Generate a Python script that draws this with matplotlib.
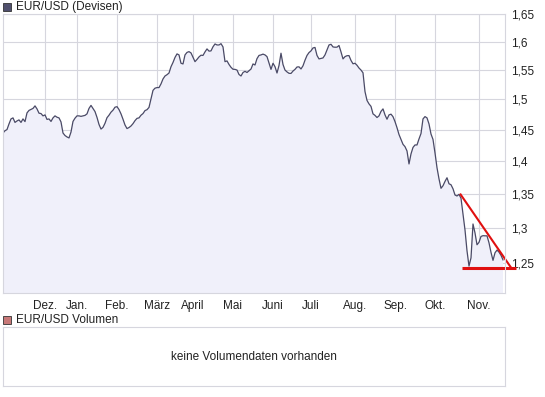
import matplotlib
matplotlib.use('Agg')
from matplotlib import pyplot
from matplotlib.patches import Rectangle
import matplotlib.ticker as ticker
import numpy

pyplot.rcParams['font.family'] = ['Liberation Sans', 'DejaVu Sans']

# EUR/USD daily closes, Nov 2007 - Nov 2008
kurs = [
    1.4449, 1.4486, 1.4505, 1.4596, 1.4678, 1.4695, 1.4621, 1.4645, 1.4662, 1.4621,
    1.4678, 1.4634, 1.4777, 1.4818, 1.4835, 1.4851, 1.4893, 1.4843, 1.4772, 1.4766,
    1.4728, 1.4744, 1.4670, 1.4678, 1.4637, 1.4695, 1.4728, 1.4706, 1.4695, 1.4629,
    1.4449, 1.4409, 1.4386, 1.4370, 1.4465, 1.4637, 1.4690, 1.4728, 1.4728, 1.4720,
    1.4728, 1.4736, 1.4761, 1.4851, 1.4901, 1.4851, 1.4799, 1.4703, 1.4588, 1.4513,
    1.4541, 1.4607, 1.4698, 1.4739, 1.4789, 1.4822, 1.4871, 1.4880, 1.4832, 1.4761,
    1.4673, 1.4579, 1.4521, 1.4538, 1.4563, 1.4601, 1.4650, 1.4687, 1.4695, 1.4739,
    1.4766, 1.4815, 1.4830, 1.4868, 1.5008, 1.5153, 1.5190, 1.5200, 1.5200, 1.5263,
    1.5347, 1.5398, 1.5420, 1.5449, 1.5558, 1.5632, 1.5720, 1.5782, 1.5764, 1.5618,
    1.5606, 1.5764, 1.5808, 1.5822, 1.5799, 1.5720, 1.5646, 1.5685, 1.5729, 1.5759,
    1.5755, 1.5817, 1.5870, 1.5831, 1.5835, 1.5908, 1.5958, 1.5940, 1.5940, 1.5963,
    1.5905, 1.5646, 1.5659, 1.5597, 1.5548, 1.5514, 1.5512, 1.5500, 1.5424, 1.5398,
    1.5458, 1.5478, 1.5458, 1.5488, 1.5518, 1.5606, 1.5588, 1.5699, 1.5755, 1.5764,
    1.5778, 1.5764, 1.5734, 1.5623, 1.5512, 1.5618, 1.5558, 1.5449, 1.5579, 1.5794,
    1.5597, 1.5500, 1.5468, 1.5444, 1.5442, 1.5483, 1.5512, 1.5553, 1.5556, 1.5519,
    1.5574, 1.5671, 1.5755, 1.5805, 1.5835, 1.5887, 1.5896, 1.5755, 1.5694, 1.5703,
    1.5711, 1.5764, 1.5852, 1.5940, 1.5952, 1.5905, 1.5900, 1.5901, 1.5931, 1.5817,
    1.5694, 1.5734, 1.5750, 1.5752, 1.5667, 1.5609, 1.5618, 1.5583, 1.5535, 1.5500,
    1.5453, 1.5132, 1.4984, 1.4926, 1.4885, 1.4761, 1.4736, 1.4701, 1.4728, 1.4802,
    1.4843, 1.4744, 1.4673, 1.4744, 1.4756, 1.4715, 1.4634, 1.4535, 1.4425, 1.4346,
    1.4268, 1.4231, 1.4163, 1.3959, 1.4116, 1.4219, 1.4258, 1.4258, 1.4354, 1.4441,
    1.4678, 1.4716, 1.4695, 1.4596, 1.4433, 1.4346, 1.4132, 1.3901, 1.3729, 1.3585,
    1.3624, 1.3690, 1.3746, 1.3654, 1.3639, 1.3578, 1.3484, 1.3469, 1.3494, 1.3435,
    1.3204, 1.2969, 1.2671, 1.2456, 1.2571, 1.3055, 1.2926, 1.2756, 1.2791, 1.2875,
    1.2886, 1.2884, 1.2884, 1.2784, 1.2649, 1.2536, 1.2642, 1.2681, 1.2652, 1.2607,
    1.2543,
]
monate = ['Dez.', 'Jan.', 'Feb.', 'März', 'April', 'Mai', 'Juni', 'Juli', 'Aug.', 'Sep.', 'Okt.', 'Nov.']
monat_start = [21, 37, 57, 77, 95, 115, 135, 154, 176, 196, 216, 238]
y_ticks = [1.25, 1.3, 1.35, 1.4, 1.45, 1.5, 1.55, 1.6, 1.65]

# hand-drawn trend lines (descending triangle)
trend_x = [228.5, 254.0]
trend_y = [1.3505, 1.2436]
support_x = [229.3, 256.3]
support_y = [1.2426, 1.2426]

W, H = 545, 397
fig = pyplot.figure(figsize=(W / 100, H / 100), dpi=100)
fig.patch.set_facecolor('white')

def box(l, t, r, b):
    return [l / W, 1 - b / H, (r - l) / W, (b - t) / H]

grid_c = '#d6d6de'
ax = fig.add_axes(box(3, 14, 505, 293))
x = numpy.arange(len(kurs))
ax.set_yscale('log')
ax.fill_between(x, kurs, 1.0, color='#f0f0fa', linewidth=0)
ax.plot(x, kurs, color='#4a4a66', linewidth=0.9)
ax.plot(trend_x, trend_y, color='#e01010', linewidth=1.5, clip_on=False, solid_capstyle='butt')
ax.plot(support_x, support_y, color='#e01010', linewidth=2.2, clip_on=False, solid_capstyle='butt')

ax.set_xlim(0, 251)
ax.set_ylim(1.2088, 1.65)
ax.yaxis.set_major_locator(ticker.FixedLocator(y_ticks))
ax.yaxis.set_minor_locator(ticker.NullLocator())
ax.yaxis.set_major_formatter(ticker.FuncFormatter(lambda v, p: f'{v:g}'.replace('.', ',')))
ax.yaxis.tick_right()
ax.set_xticks(monat_start)
ax.set_xticklabels(monate)
ax.tick_params(axis='both', length=0, labelsize=8.5, colors='#222222')
ax.tick_params(axis='x', pad=5)
ax.tick_params(axis='y', pad=4)
ax.grid(True, color=grid_c, linewidth=0.8)
ax.set_axisbelow(True)
for s in ax.spines.values():
    s.set_color(grid_c)
    s.set_linewidth(0.8)

# legend squares + titles
fig.add_artist(Rectangle((3 / W, 1 - 11 / H), 8 / W, 8 / H, transform=fig.transFigure,
                         facecolor='#50506e', edgecolor='#333333', linewidth=0.6))
fig.text(16 / W, 1 - 7 / H, 'EUR/USD (Devisen)', fontsize=8.5, va='center', ha='left', color='#222222')
fig.add_artist(Rectangle((3 / W, 1 - 324 / H), 8 / W, 8 / H, transform=fig.transFigure,
                         facecolor='#c87878', edgecolor='#333333', linewidth=0.6))
fig.text(16 / W, 1 - 320 / H, 'EUR/USD Volumen', fontsize=8.5, va='center', ha='left', color='#222222')

vol = fig.add_axes(box(3, 327, 505, 386))
vol.set_xticks([])
vol.set_yticks([])
for s in vol.spines.values():
    s.set_color(grid_c)
    s.set_linewidth(0.8)
vol.text(0.5, 0.5, 'keine Volumendaten vorhanden', transform=vol.transAxes,
         ha='center', va='center', fontsize=8.5, color='#222222')

fig.savefig('out.png', dpi=100)
